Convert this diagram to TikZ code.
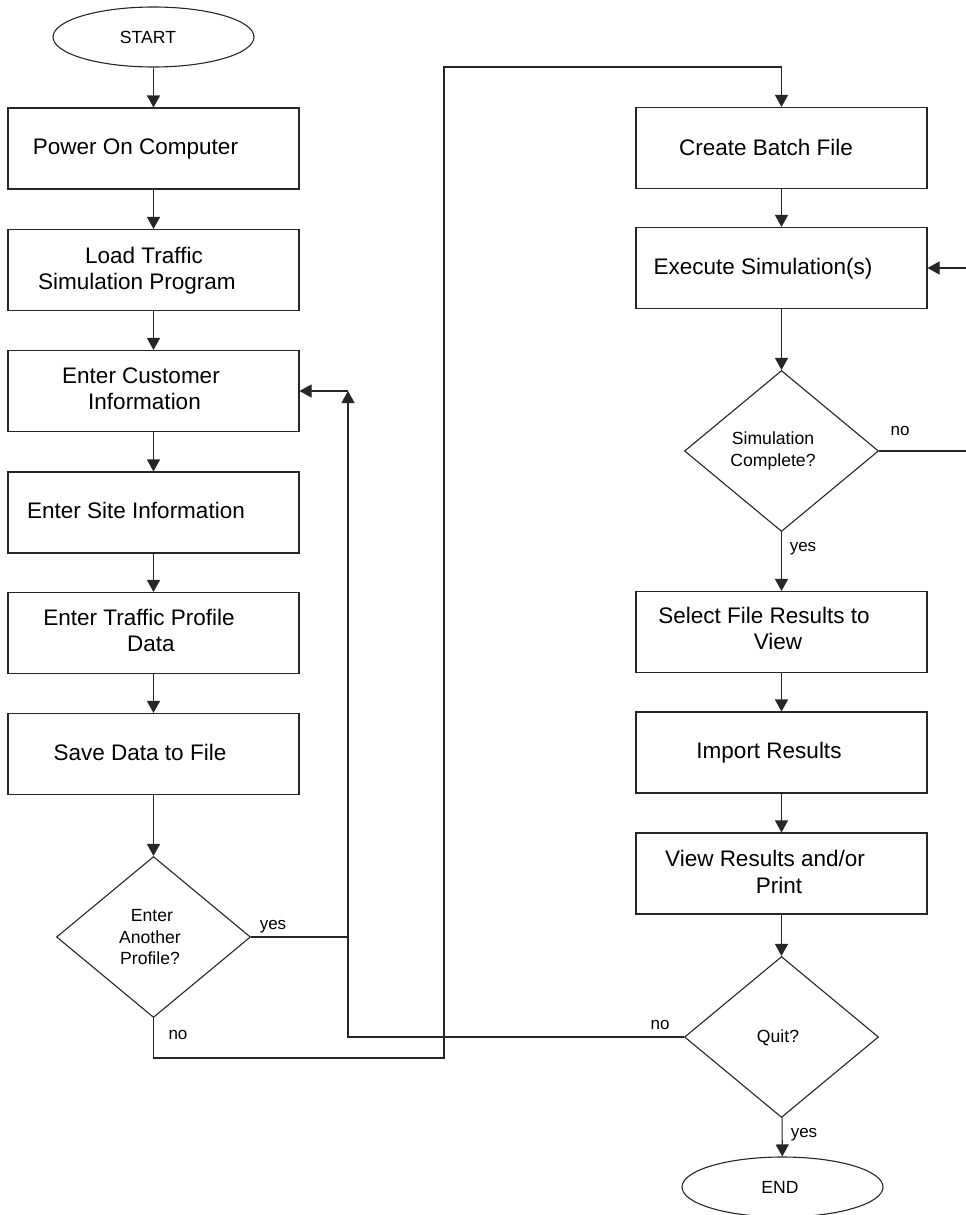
\documentclass[tikz,border=0pt]{standalone}
\usepackage{fontspec}
\setmainfont{Liberation Sans}
\usetikzlibrary{arrows.meta,shapes.geometric}
\begin{document}
\begin{tikzpicture}[x=1pt,y=-1pt,
  line/.style={draw=black!85, line width=1.1pt},
  arr/.style={line, -{Triangle[width=13pt,length=12pt]}},
  stepbox/.style={draw=black!85, line width=1.1pt, rectangle,
    minimum width=291pt, minimum height=81pt, inner sep=0pt},
  decision/.style={draw=black!85, line width=1.1pt, diamond,
    minimum width=194pt, minimum height=161pt, inner sep=0pt},
  terminal/.style={draw=black!85, line width=1.1pt, ellipse,
    minimum width=201pt, minimum height=60pt, inner sep=0pt},
  boxtext/.style={font=\fontsize{22.5}{27}\selectfont, inner sep=0pt,
    text height=0.72em, text depth=0.2em, yshift=-4pt},
  smalltext/.style={font=\fontsize{17.6}{21}\selectfont, inner sep=0pt,
    text height=0.72em, text depth=0.2em, yshift=-3.5pt},
  lbl/.style={font=\fontsize{17}{20}\selectfont, inner sep=0pt,
    text height=0.72em, text depth=0.2em, yshift=-3.5pt}
]
\clip (0,0) rectangle (966,1215);
\fill[white] (0,0) rectangle (966,1215);

% ---------- left column ----------
\node[terminal] (start) at (153.5,37) {};
\node[smalltext] (tstart) at (148,37) {START};

\node[stepbox] (b1) at (153.5,148.5) {};
\node[boxtext] (t1) at (135.5,148) {Power On Computer};

\node[stepbox] (b2) at (153.5,270) {};
\node[boxtext] (t2a) at (144,257) {Load Traffic};
\node[boxtext] (t2b) at (137,283) {Simulation Program};

\node[stepbox] (b3) at (153.5,391) {};
\node[boxtext] (t3a) at (141,377) {Enter Customer};
\node[boxtext] (t3b) at (144.5,403) {Information};

\node[stepbox] (b4) at (153.5,512.5) {};
\node[boxtext] (t4) at (136,512) {Enter Site Information};

\node[stepbox] (b5) at (153.5,633) {};
\node[boxtext] (t5a) at (139,619) {Enter Traffic Profile};
\node[boxtext] (t5b) at (151,645) {Data};

\node[stepbox] (b6) at (153.5,754) {};
\node[boxtext] (t6) at (140,754) {Save Data to File};

\node[decision] (dA) at (153.5,937) {};
\node[smalltext] (tdA1) at (152,915) {Enter};
\node[smalltext] (tdA2) at (150,937) {Another};
\node[smalltext] (tdA3) at (150,958) {Profile?};

% ---------- right column ----------
\node[stepbox] (c1) at (781.5,148) {};
\node[boxtext] (tc1) at (766,149) {Create Batch File};

\node[stepbox] (c2) at (781.5,268) {};
\node[boxtext] (tc2) at (763,268) {Execute Simulation(s)};

\node[decision] (dS) at (781.5,451) {};
\node[smalltext] (tdS1) at (773,438) {Simulation};
\node[smalltext] (tdS2) at (773,460) {Complete?};

\node[stepbox] (r1) at (781.5,632) {};
\node[boxtext] (tr1a) at (764,617) {Select File Results to};
\node[boxtext] (tr1b) at (778,643) {View};

\node[stepbox] (r2) at (781.5,752.5) {};
\node[boxtext] (tr2) at (769,752) {Import Results};

\node[stepbox] (r3) at (781.5,873.5) {};
\node[boxtext] (tr3a) at (765,860) {View Results and/or};
\node[boxtext] (tr3b) at (779,887) {Print};

\node[decision] (dQ) at (781.5,1037) {};
\node[smalltext] (tdQ) at (778,1036) {Quit?};

\node[terminal] (endn) at (782.5,1187) {};
\node[smalltext] (tend) at (780,1187) {END};

% ---------- straight flow ----------
\draw[arr] (start) -- (b1);
\draw[arr] (b1) -- (b2);
\draw[arr] (b2) -- (b3);
\draw[arr] (b3) -- (b4);
\draw[arr] (b4) -- (b5);
\draw[arr] (b5) -- (b6);
\draw[arr] (b6) -- (dA);
\draw[arr] (c1) -- (c2);
\draw[arr] (c2) -- (dS);
\draw[arr] (dS) -- (r1);
\draw[arr] (r1) -- (r2);
\draw[arr] (r2) -- (r3);
\draw[arr] (r3) -- (dQ);
\draw[arr] (dQ) -- (endn);

% ---------- loops ----------
\coordinate (j) at (348,391);
\draw[arr] (dQ.west) -- (dQ.west -| j) -- (j);
\draw[line] (dA.east) -- (dA.east -| j);
\draw[arr] (j) -- (b3.east);

\coordinate (k1) at (444,1058);
\coordinate (k2) at (444,67);
\draw[arr] (dA.south) |- (k1) -- (k2) -| (c1.north);

\coordinate (e1) at (975,451);
\coordinate (e2) at (975,268);
\draw[arr] (dS.east) -- (e1) -- (e2) -- (c2.east);

% ---------- branch labels ----------
\node[lbl] (yA) at (273,923) {yes};
\node[lbl] (nA) at (178,1033) {no};
\node[lbl] (nS) at (900,429) {no};
\node[lbl] (yS) at (803,545) {yes};
\node[lbl] (nQ) at (660,1023) {no};
\node[lbl] (yQ) at (804,1131) {yes};
\end{tikzpicture}
\end{document}
